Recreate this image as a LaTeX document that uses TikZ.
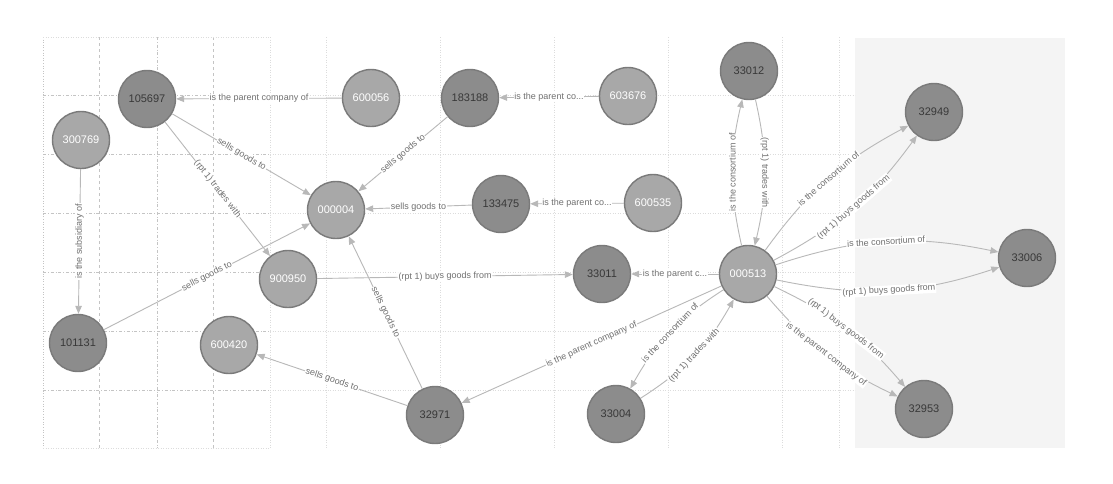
\documentclass[tikz,border=0pt]{standalone}
\usepackage{fontspec}
\setmainfont{Liberation Sans}
\usetikzlibrary{arrows.meta}
\definecolor{ndark}{HTML}{8C8C8C}
\definecolor{nlight}{HTML}{A8A8A8}
\definecolor{nborder}{HTML}{7A7A7A}
\definecolor{edgec}{HTML}{B8B8B8}
\definecolor{lblc}{HTML}{707070}
\definecolor{dtext}{HTML}{383838}
\definecolor{gridc}{HTML}{C4C4C4}
\definecolor{gridf}{HTML}{DCDCDC}
\definecolor{regionc}{HTML}{F4F4F4}
\begin{document}
\begin{tikzpicture}[x=1pt,y=1pt,
  ent/.style={circle, minimum size=57pt, inner sep=0pt, line width=1.4pt, draw=nborder, font=\fontsize{11}{13}\selectfont},
  dk/.style={ent, fill=ndark, text=dtext},
  lt/.style={ent, fill=nlight, text=white},
  rel/.style={draw=edgec, line width=0.9pt, -{Triangle[length=8pt,width=6.5pt]}},
  lbl/.style={font=\fontsize{9}{10}\selectfont, text=lblc, fill=white, inner sep=0.8pt},
  gstrong/.style={draw=gridc, line width=0.6pt},
  gfaint/.style={draw=gridf, line width=0.5pt, dotted},
]
\useasboundingbox (0,0) rectangle (1113,-483);
\fill[white] (0,0) rectangle (1113,-483);
% right shaded region
\fill[regionc] (855,-38) rectangle (1065,-448);
% faint grid
\foreach \y in {95,154,213,272,331,390} \draw[gfaint] (270,-\y) -- (855,-\y);
\foreach \x in {270,326,440,554,668,782,839} \draw[gfaint] (\x,-37) -- (\x,-448);
% strong grid
\draw[gstrong, dotted] (43,-37) -- (43,-448);
\draw[gstrong, dashed] (99,-37) -- (99,-448);
\draw[gstrong, dash dot] (157,-37) -- (157,-448);
\draw[gstrong, dashed] (213,-37) -- (213,-448);
\draw[gfaint] (43,-37) -- (270,-37);
\draw[gfaint] (43,-448) -- (270,-448);
\foreach \y in {95,154,213,272,331,390} \draw[gstrong, dash dot] (43,-\y) -- (270,-\y);

% nodes
\node[dk] (n105697) at (147,-99) {105697};
\node[lt] (n600056) at (371,-98) {600056};
\node[dk] (n183188) at (470,-98) {183188};
\node[lt] (n603676) at (628,-96) {603676};
\node[lt] (n300769) at (81,-140) {300769};
\node[lt] (n000004) at (336,-210) {000004};
\node[dk] (n133475) at (501,-204) {133475};
\node[lt] (n600535) at (653,-203) {600535};
\node[lt] (n900950) at (288,-279) {900950};
\node[dk] (n33011) at (602,-274) {33011};
\node[lt] (n000513) at (748,-274) {000513};
\node[dk] (n101131) at (78,-343) {101131};
\node[lt] (n600420) at (229,-345) {600420};
\node[dk] (n32971) at (435,-415) {32971};
\node[dk] (n33004) at (616,-414) {33004};
\node[dk] (n32953) at (924,-409) {32953};
\node[dk] (n33012) at (749,-71) {33012};
\node[dk] (n32949) at (934,-112) {32949};
\node[dk] (n33006) at (1027,-258) {33006};

% edges
\draw[rel] (n600056) -- node[lbl]{is the parent company of} (n105697);
\draw[rel] (n603676) -- node[lbl]{is the parent co...} (n183188);
\draw[rel] (n105697) -- node[lbl,sloped]{sells goods to} (n000004);
\draw[rel] (n105697) -- node[lbl,sloped]{(rpt 1) trades with} (n900950);
\draw[rel] (n183188) -- node[lbl,sloped]{sells goods to} (n000004);
\draw[rel] (n133475) -- node[lbl]{sells goods to} (n000004);
\draw[rel] (n600535) -- node[lbl]{is the parent co...} (n133475);
\draw[rel] (n300769) -- node[lbl,rotate=90]{is the subsidiary of} (n101131);
\draw[rel] (n101131) -- node[lbl,sloped]{sells goods to} (n000004);
\draw[rel] (n900950) -- node[lbl,sloped]{(rpt 1) buys goods from} (n33011);
\draw[rel] (n32971) -- node[lbl,sloped]{sells goods to} (n000004);
\draw[rel] (n32971) -- node[lbl,sloped]{sells goods to} (n600420);
\draw[rel] (n000513) -- node[lbl]{is the parent c...} (n33011);
\draw[rel] (n000513) -- node[lbl,sloped]{is the parent company of} (n32971);
\draw[rel] (n000513) to[bend right=14] node[lbl,sloped]{is the consortium of} (n33004);
\draw[rel] (n33004) to[bend right=14] node[lbl,sloped]{(rpt 1) trades with} (n000513);
\draw[rel] (n000513) to[bend left=13] node[lbl,rotate=90]{is the consortium of} (n33012);
\draw[rel] (n33012) to[bend left=13] node[lbl,rotate=-90]{(rpt 1) trades with} (n000513);
\draw[rel] (n000513) to[bend left=13] node[lbl,sloped]{is the consortium of} (n32949);
\draw[rel] (n000513) to[bend right=13] node[lbl,sloped]{(rpt 1) buys goods from} (n32949);
\draw[rel] (n000513) to[bend left=15] node[lbl,sloped]{is the consortium of} (n33006);
\draw[rel] (n000513) to[bend right=15] node[lbl,sloped]{(rpt 1) buys goods from} (n33006);
\draw[rel] (n000513) to[bend left=12] node[lbl,sloped]{(rpt 1) buys goods from} (n32953);
\draw[rel] (n000513) to[bend right=12] node[lbl,sloped]{is the parent company of} (n32953);
\end{tikzpicture}
\end{document}
